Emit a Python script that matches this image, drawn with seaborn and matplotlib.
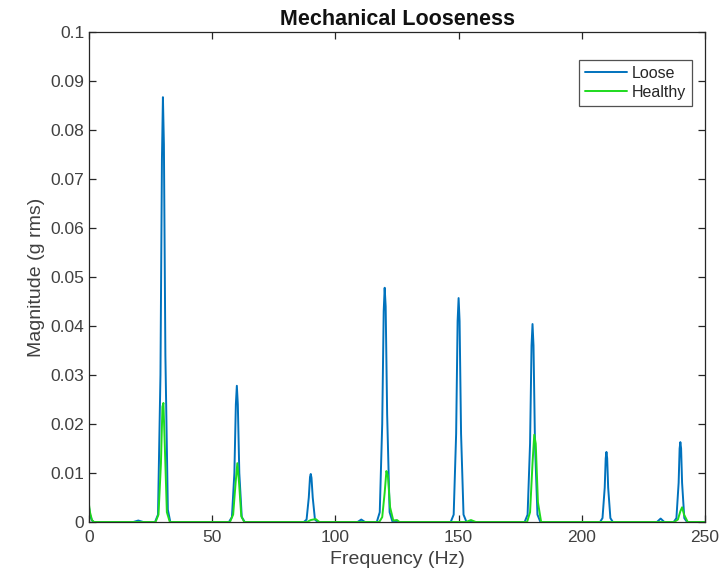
import numpy as np
import pandas as pd
import matplotlib
matplotlib.use("Agg")
import matplotlib.pyplot as plt
import seaborn as sns

# Spectrum of the loose machine (frequency in Hz, magnitude in g rms)
loose_freq = [0, 0.4, 1.2, 2.0, 18, 20, 22, 26.8, 28.0, 29.0, 29.6, 30.0, 30.4, 31.0, 32.0, 33.0,
              56.8, 58.0, 59.0, 59.6, 60.0, 60.4, 61.0, 62.0, 63.2,
              87.2, 88.3, 89.2, 89.7, 90.0, 90.3, 90.8, 91.7, 92.8,
              109, 110.5, 112, 116.8, 118.0, 119.0, 119.6, 120.0, 120.4, 121.0, 122.0, 123.2,
              146.8, 148.0, 149.0, 149.6, 150.0, 150.4, 151.0, 152.0, 153.2,
              176.8, 178.0, 179.0, 179.6, 180.0, 180.4, 181.0, 182.0, 183.2,
              207.4, 208.4, 209.3, 209.7, 210.0, 210.3, 210.7, 211.6, 212.6,
              230.5, 232.0, 233.5, 237.3, 238.4, 239.3, 239.7, 240.0, 240.3, 240.7, 241.6, 242.7, 250]
loose_mag = [0.0030, 0.0015, 0.0003, 0, 0, 0.0003, 0, 0, 0.0015, 0.030, 0.074, 0.0867, 0.077, 0.034, 0.0025, 0,
             0, 0.0010, 0.010, 0.024, 0.0278, 0.024, 0.010, 0.0010, 0,
             0, 0.0005, 0.005, 0.0092, 0.0098, 0.0090, 0.005, 0.0005, 0,
             0, 0.0005, 0, 0, 0.0020, 0.020, 0.043, 0.0478, 0.044, 0.022, 0.0020, 0,
             0, 0.0015, 0.018, 0.041, 0.0457, 0.041, 0.018, 0.0015, 0,
             0, 0.0015, 0.016, 0.036, 0.0404, 0.036, 0.016, 0.0015, 0,
             0, 0.0008, 0.007, 0.0130, 0.0143, 0.0130, 0.007, 0.0008, 0,
             0, 0.0007, 0, 0, 0.0008, 0.008, 0.0150, 0.0163, 0.0150, 0.008, 0.0008, 0, 0]

# Spectrum of the healthy machine
healthy_freq = [0, 0.4, 1.2, 2.0, 27.0, 28.2, 29.2, 29.8, 30.2, 30.8, 31.6, 32.8,
                57.2, 58.5, 59.5, 60.2, 60.9, 61.8, 63.0,
                88.5, 90.0, 92.0, 93.5, 117.8, 119.0, 120.0, 120.7, 121.3, 122.2, 123.5, 125, 126,
                153, 155, 157, 177.8, 179.0, 180.0, 180.7, 181.3, 182.2, 183.5,
                237.5, 239.0, 240.0, 240.7, 241.5, 243.0, 250]
healthy_mag = [0.0035, 0.0020, 0.0004, 0, 0, 0.0015, 0.012, 0.0235, 0.0243, 0.015, 0.0020, 0,
               0, 0.0015, 0.008, 0.0120, 0.008, 0.0012, 0,
               0, 0.0004, 0.0006, 0, 0, 0.0010, 0.006, 0.0104, 0.0095, 0.0030, 0.0003, 0.0004, 0,
               0, 0.0004, 0, 0, 0.0020, 0.012, 0.0178, 0.0160, 0.0040, 0,
               0, 0.0005, 0.0022, 0.0030, 0.0015, 0, 0]

x_ticks = [0, 50, 100, 150, 200, 250]
y_ticks = [0, 0.01, 0.02, 0.03, 0.04, 0.05, 0.06, 0.07, 0.08, 0.09, 0.1]
y_tick_labels = ["0", "0.01", "0.02", "0.03", "0.04", "0.05", "0.06", "0.07", "0.08", "0.09", "0.1"]

df = pd.concat([
    pd.DataFrame({"Frequency": loose_freq, "Magnitude": loose_mag, "Condition": "Loose"}),
    pd.DataFrame({"Frequency": healthy_freq, "Magnitude": healthy_mag, "Condition": "Healthy"}),
], ignore_index=True)

sns.set_style("white")
plt.rcParams["font.family"] = ["Liberation Sans", "DejaVu Sans"]

fig = plt.figure(figsize=(7.25, 5.86), dpi=100)
ax = fig.add_axes([89 / 725, 1 - 522 / 586, (705 - 89) / 725, (522 - 32) / 586])

palette = {"Loose": "#0072BD", "Healthy": "#1EDB1E"}
sns.lineplot(data=df, x="Frequency", y="Magnitude", hue="Condition", palette=palette,
             estimator=None, sort=False, linewidth=1.4, ax=ax)

ax.set_xlim(0, 250)
ax.set_ylim(0, 0.1)
ax.set_xticks(x_ticks)
ax.set_yticks(y_ticks)
ax.set_yticklabels(y_tick_labels)

axis_color = "#262626"
for sp in ax.spines.values():
    sp.set_visible(True)
    sp.set_color(axis_color)
    sp.set_linewidth(0.9)
ax.tick_params(direction="in", length=5, width=0.9, colors=axis_color, labelcolor="#404040",
               labelsize=12.5, top=True, right=True, bottom=True, left=True)
ax.tick_params(axis="x", pad=6)

ax.set_xlabel("Frequency (Hz)", fontsize=14, color="#404040")
ax.set_ylabel("Magnitude (g rms)", fontsize=14, color="#404040")
ax.set_title("Mechanical Looseness", fontsize=15.5, fontweight="bold", color="#111111", pad=5)

leg = ax.legend(loc="upper right", bbox_to_anchor=(0.992, 0.96), fontsize=11.5, frameon=True,
                fancybox=False, edgecolor=axis_color, handlelength=2.6, borderpad=0.4,
                labelspacing=0.25, handletextpad=0.3)
leg.get_frame().set_linewidth(0.9)
leg.set_title(None)

fig.savefig("out.png", dpi=100, facecolor="white")
